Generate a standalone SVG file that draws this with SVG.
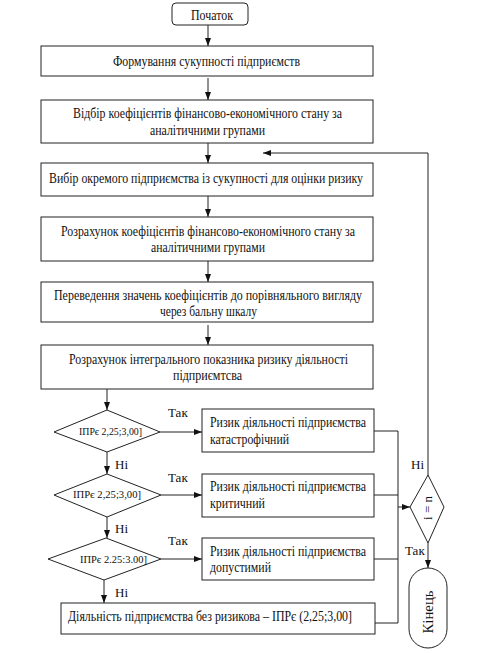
<svg xmlns="http://www.w3.org/2000/svg" width="492" height="653" viewBox="0 0 492 653">
<defs>
<style>
.b{fill:#fff;stroke:#222;stroke-width:1}
.c{fill:none;stroke:#222;stroke-width:1}
.t{font-family:"Liberation Serif","Times New Roman",serif;font-size:14px;fill:#111}
.s{font-family:"Liberation Serif","Times New Roman",serif;font-size:10px;fill:#111}
.l{font-family:"Liberation Serif","Times New Roman",serif;font-size:13px;fill:#111}
</style>
<marker id="ar" viewBox="0 0 8 6" refX="8" refY="3" markerWidth="8" markerHeight="6" markerUnits="userSpaceOnUse" orient="auto">
<path d="M0,0 L8,3 L0,6 z" fill="#111"/>
</marker>
</defs>
<rect width="492" height="653" fill="#fff"/>
<g id="connectors">
<path class="c" d="M208,25 V46" marker-end="url(#ar)"/>
<path class="c" d="M208,78 V100" marker-end="url(#ar)"/>
<path class="c" d="M208,143 V163" marker-end="url(#ar)"/>
<path class="c" d="M208,196 V217" marker-end="url(#ar)"/>
<path class="c" d="M208,261 V282" marker-end="url(#ar)"/>
<path class="c" d="M208,325 V345" marker-end="url(#ar)"/>
<path class="c" d="M107,389 V410" marker-end="url(#ar)"/>
<path class="c" d="M160,432 H202" marker-end="url(#ar)"/>
<path class="c" d="M107,452 V474" marker-end="url(#ar)"/>
<path class="c" d="M161,495 H202" marker-end="url(#ar)"/>
<path class="c" d="M107,517 V538" marker-end="url(#ar)"/>
<path class="c" d="M161,559 H202" marker-end="url(#ar)"/>
<path class="c" d="M104,580 V603" marker-end="url(#ar)"/>
<path class="c" d="M374,431 H398 M374,495 H398 M374,559 H398 M375,623 H398 M398,431 V623"/>
<path class="c" d="M398,507 H410" marker-end="url(#ar)"/>
<path class="c" d="M428,475 V153 H263" marker-end="url(#ar)"/>
<path class="c" d="M428,543 V568" marker-end="url(#ar)"/>
</g>
<g id="start">
<rect class="b" x="172" y="3" width="76" height="22" rx="4"/>
<text class="t" x="191" y="20" textLength="42" lengthAdjust="spacingAndGlyphs">Початок</text>
</g>
<g id="n1">
<rect class="b" x="41" y="46" width="332" height="30"/>
<text class="t" x="113" y="65.5" textLength="187" lengthAdjust="spacingAndGlyphs">Формування сукупності підприємств</text>
</g>
<g id="n2">
<rect class="b" x="41" y="100" width="332" height="43"/>
<text class="t" x="73" y="118" textLength="269" lengthAdjust="spacingAndGlyphs">Відбір коефіцієнтів фінансово-економічного стану за</text>
<text class="t" x="150" y="135" textLength="115" lengthAdjust="spacingAndGlyphs">аналітичними групами</text>
</g>
<g id="n3">
<rect class="b" x="41" y="163" width="332" height="33"/>
<text class="t" x="49" y="183" textLength="314" lengthAdjust="spacingAndGlyphs">Вибір окремого підприємства із сукупності для оцінки ризику</text>
</g>
<g id="n4">
<rect class="b" x="41" y="217" width="332" height="44"/>
<text class="t" x="61" y="236" textLength="294" lengthAdjust="spacingAndGlyphs">Розрахунок коефіцієнтів фінансово-економічного стану за</text>
<text class="t" x="151" y="252" textLength="114" lengthAdjust="spacingAndGlyphs">аналітичними групами</text>
</g>
<g id="n5">
<rect class="b" x="41" y="282" width="332" height="40"/>
<text class="t" x="54" y="300" textLength="308" lengthAdjust="spacingAndGlyphs">Переведення значень коефіцієнтів до порівняльного вигляду</text>
<text class="t" x="160" y="316" textLength="97" lengthAdjust="spacingAndGlyphs">через бальну шкалу</text>
</g>
<g id="n6">
<rect class="b" x="41" y="345" width="332" height="44"/>
<text class="t" x="69" y="364" textLength="279" lengthAdjust="spacingAndGlyphs">Розрахунок інтегрального показника ризику діяльності</text>
<text class="t" x="173" y="380" textLength="69" lengthAdjust="spacingAndGlyphs">підприємтсва</text>
</g>
<g id="d1">
<polygon class="b" points="107,410 160,432 107,452 54,432"/>
<text class="s" x="79" y="435" textLength="63" lengthAdjust="spacingAndGlyphs">ІПРє 2,25;3,00]</text>
</g>
<g id="n7">
<rect class="b" x="202" y="409" width="172" height="43"/>
<text class="t" x="210" y="427" textLength="156" lengthAdjust="spacingAndGlyphs">Ризик діяльності підприємства</text>
<text class="t" x="210" y="444" textLength="79" lengthAdjust="spacingAndGlyphs">катастрофічний</text>
</g>
<g id="d2">
<polygon class="b" points="107,474 161,495 107,517 54,495"/>
<text class="s" x="73" y="498" textLength="68" lengthAdjust="spacingAndGlyphs">ІПРє 2,25;3,00]</text>
</g>
<g id="n8">
<rect class="b" x="202" y="474" width="172" height="43"/>
<text class="t" x="210" y="491" textLength="156" lengthAdjust="spacingAndGlyphs">Ризик діяльності підприємства</text>
<text class="t" x="210" y="508" textLength="55" lengthAdjust="spacingAndGlyphs">критичний</text>
</g>
<g id="d3">
<polygon class="b" points="106,538 161,559 104,580 48,559"/>
<text class="s" x="80" y="563" textLength="67" lengthAdjust="spacingAndGlyphs">ІПРє 2.25:3.00]</text>
</g>
<g id="n9">
<rect class="b" x="202" y="538" width="172" height="42"/>
<text class="t" x="210" y="556" textLength="156" lengthAdjust="spacingAndGlyphs">Ризик діяльності підприємства</text>
<text class="t" x="210" y="572" textLength="61" lengthAdjust="spacingAndGlyphs">допустимий</text>
</g>
<g id="n10">
<rect class="b" x="61" y="603" width="314" height="31"/>
<text class="t" x="68" y="621" textLength="284" lengthAdjust="spacingAndGlyphs">Діяльність підприємства без ризикова – ІПРє (2,25;3,00]</text>
</g>
<g id="d4">
<polygon class="b" points="428,475 444,507 428,543 410,507"/>
<text class="l" transform="translate(432,508) rotate(-90)" x="0" y="0" text-anchor="middle">i = n</text>
</g>
<g id="end">
<rect class="b" x="409" y="568" width="38" height="80" rx="19"/>
<text class="t" transform="translate(433,612) rotate(-90)" x="-21.5" y="0" textLength="43" lengthAdjust="spacingAndGlyphs">Кінець</text>
</g>
<g id="labels">
<text class="l" x="168" y="417">Так</text>
<text class="l" x="168" y="482">Так</text>
<text class="l" x="168" y="545">Так</text>
<text class="l" x="115" y="469">Ні</text>
<text class="l" x="115" y="533">Ні</text>
<text class="l" x="115" y="597">Ні</text>
<text class="l" x="411" y="469">Ні</text>
<text class="l" x="405" y="555">Так</text>
</g>
</svg>
